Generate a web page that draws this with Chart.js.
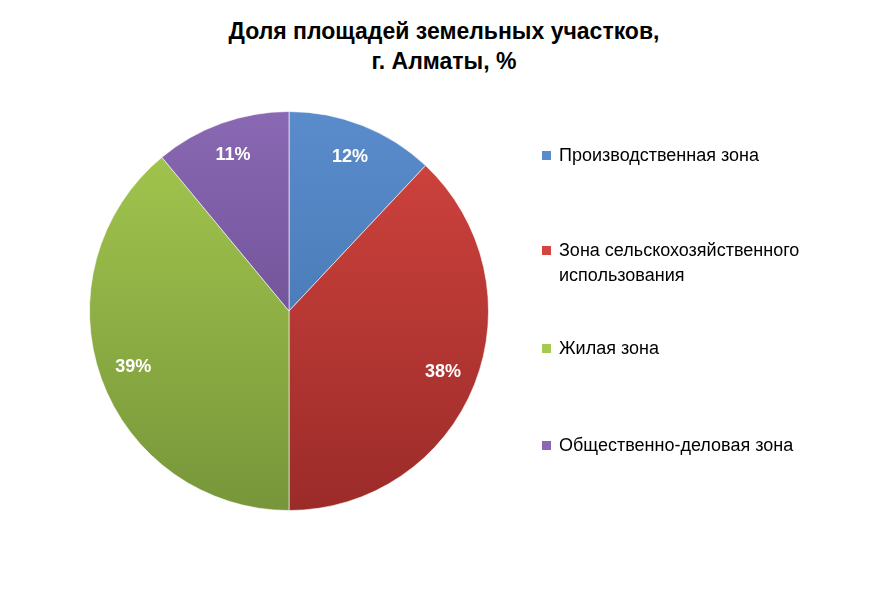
<!DOCTYPE html>
<html>
<head>
<meta charset="utf-8">
<script src="https://cdn.jsdelivr.net/npm/chart.js@4"></script>
<style>
  body { margin: 0; background: #fff; font-family: "Liberation Sans", Arial, sans-serif; }
  #wrap { position: relative; width: 888px; height: 593px; }
  #title { position: absolute; left: 0; top: 16px; width: 888px; text-align: center;
           font-weight: bold; font-size: 23px; line-height: 30px; color: #000; }
  #box { position: absolute; left: 0; top: 101px; width: 578px; height: 420px; }
  #legend { position: absolute; left: 542px; top: 0; font-size: 18px; color: #000; }
  .item { position: absolute; white-space: nowrap; line-height: 25px; }
  .item i { position: absolute; left: 0; top: 8px; width: 9px; height: 9px; }
  .item span { position: absolute; left: 17px; top: 0; }
</style>
</head>
<body>
<div id="wrap">
  <div id="title">Доля площадей земельных участков,<br>г. Алматы, %</div>
  <div id="box"><canvas id="pieChart"></canvas></div>
  <div id="legend"></div>
</div>
<script>
const categories = ['Производственная зона', 'Зона сельскохозяйственного использования', 'Жилая зона', 'Общественно-деловая зона'];
const legendLines = [['Производственная зона'], ['Зона сельскохозяйственного', 'использования'], ['Жилая зона'], ['Общественно-деловая зона']];
const values = [12, 38, 39, 11];
const colorsLight = ['#5a8ccc', '#d4453f', '#a6c94f', '#8a68b3'];
const colorsDark = ['#3d6ea8', '#9b2b29', '#77963a', '#5c4283'];
const legendTops = [143, 238, 336, 433];

// Легенда HTML
const legend = document.getElementById('legend');
legendLines.forEach((lines, i) => {
    const div = document.createElement('div');
    div.className = 'item';
    div.style.top = legendTops[i] + 'px';
    div.innerHTML = `<i style="background:${colorsLight[i]}"></i><span>${lines.join('<br>')}</span>`;
    legend.appendChild(div);
});

const labelPlugin = {
    id: 'sliceLabels',
    afterDatasetsDraw(chart) {
        const ctx = chart.ctx;
        chart.getDatasetMeta(0).data.forEach((arc, i) => {
            const mid = (arc.startAngle + arc.endAngle) / 2;
            const r = arc.outerRadius * 0.83;
            ctx.save();
            ctx.font = 'bold 18px "Liberation Sans", Arial, sans-serif';
            ctx.fillStyle = '#fff';
            ctx.textAlign = 'center';
            ctx.textBaseline = 'middle';
            ctx.fillText(values[i] + '%', arc.x + Math.cos(mid) * r, arc.y + Math.sin(mid) * r);
            ctx.restore();
        });
    }
};

new Chart(document.getElementById('pieChart'), {
    type: 'pie',
    data: {
        labels: categories,
        datasets: [{
            data: values,
            backgroundColor: function(context) {
                const area = context.chart.chartArea;
                if (!area) return colorsLight[context.dataIndex];
                const g = context.chart.ctx.createLinearGradient(0, area.top, 0, area.bottom);
                g.addColorStop(0, colorsLight[context.dataIndex]);
                g.addColorStop(1, colorsDark[context.dataIndex]);
                return g;
            },
            borderColor: 'rgba(255,255,255,0.6)',
            borderWidth: 1
        }]
    },
    options: {
        responsive: true,
        maintainAspectRatio: false,
        animation: false,
        layout: { padding: 10 },
        plugins: {
            legend: { display: false },
            tooltip: { enabled: false }
        }
    },
    plugins: [labelPlugin]
});
</script>
</body>
</html>
